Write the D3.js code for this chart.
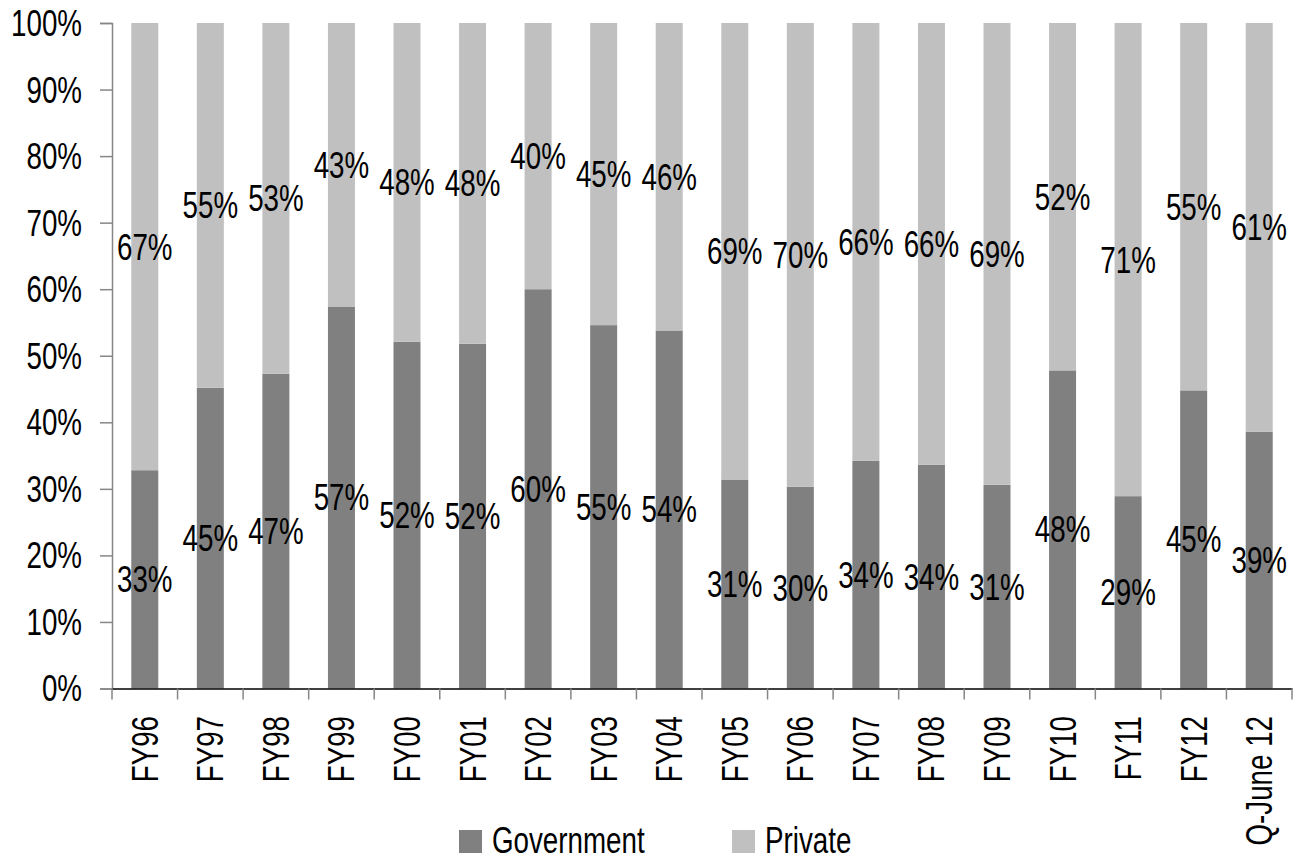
<!DOCTYPE html>
<html><head><meta charset="utf-8">
<script src="https://cdn.jsdelivr.net/npm/d3@7"></script>
<style>
html,body{margin:0;padding:0;background:#fff;}
svg text{font-family:"Liberation Sans",Arial,sans-serif;fill:#000;}
</style></head>
<body>
<svg id="c" width="1299" height="861"></svg>
<script>
const categories = ["FY96","FY97","FY98","FY99","FY00","FY01","FY02","FY03","FY04","FY05","FY06","FY07","FY08","FY09","FY10","FY11","FY12","Q-June 12"];
const government = [32.8,45.2,47.3,57.4,52.1,51.8,60.0,54.6,53.8,31.4,30.3,34.2,33.6,30.6,47.8,28.9,44.8,38.6];
const privateShare = [67.2,54.8,52.7,42.6,47.9,48.2,40.0,45.4,46.2,68.6,69.7,65.8,66.4,69.4,52.2,71.1,55.2,61.4];
const yTicks = [0,10,20,30,40,50,60,70,80,90,100];
const seriesNames = ["Government","Private"];
const colors = ["#808080","#c0c0c0"];

const svg = d3.select("#c");
const fs = 37, sx = 0.75;
const x = d3.scaleBand().domain(categories).range([112,1292]).paddingInner(0.588).paddingOuter(0.294);
const y = d3.scaleLinear().domain([0,100]).range([688.5,23]);

const rows = categories.map((c,i)=>({cat:c, gov:government[i], priv:privateShare[i]}));

function label(sel, px, py, anchor, rot){
  return sel.attr("transform",(d,i)=>`translate(${px(d,i)},${py(d,i)})${rot?" rotate(-90)":""} scale(${sx},1)`)
    .attr("text-anchor",anchor).attr("dy","0.35em").attr("font-size",fs);
}

// bars
const g = svg.append("g");
g.selectAll("rect.gov").data(rows).join("rect")
  .attr("x",d=>x(d.cat)).attr("width",x.bandwidth())
  .attr("y",d=>y(d.gov)).attr("height",d=>y(0)-y(d.gov)).attr("fill",colors[0]);
g.selectAll("rect.priv").data(rows).join("rect")
  .attr("x",d=>x(d.cat)).attr("width",x.bandwidth())
  .attr("y",d=>y(d.gov+d.priv)).attr("height",d=>y(d.gov)-y(d.gov+d.priv)).attr("fill",colors[1]);

// y axis
const ya = svg.append("g").attr("transform","translate(112,0)")
  .call(d3.axisLeft(y).tickValues(yTicks).tickFormat("").tickSize(12));
ya.select(".domain").attr("stroke","#868686").attr("stroke-width",1.5);
ya.selectAll(".tick line").attr("stroke","#868686").attr("stroke-width",1.5);
label(svg.append("g").selectAll("text").data(yTicks).join("text").text(d=>d+"%"),
  ()=>82, d=>y(d), "end", false);

// x axis
const xa = svg.append("g").attr("transform","translate(0,688.5)")
  .call(d3.axisBottom(x).tickSize(0).tickFormat(""));
xa.select(".domain").attr("stroke","#000").attr("stroke-width",1.5);
const bounds = d3.range(categories.length+1).map(i=>x.range()[0] + i*x.step());
xa.selectAll("line.b").data(bounds).join("line").attr("class","b")
  .attr("x1",d=>d).attr("x2",d=>d).attr("y1",0).attr("y2",11)
  .attr("stroke","#868686").attr("stroke-width",1.5);
label(svg.append("g").selectAll("text").data(categories).join("text").text(d=>d),
  d=>x(d)+x.bandwidth()/2, ()=>716, "end", true);

// data labels
const lab = svg.append("g");
label(lab.selectAll("text.gl").data(rows).join("text").attr("class","gl").text(d=>Math.round(d.gov)+"%"),
  d=>x(d.cat)+x.bandwidth()/2, d=>y(d.gov/2), "middle", false);
label(lab.selectAll("text.pl").data(rows).join("text").attr("class","pl").text(d=>Math.round(d.priv)+"%"),
  d=>x(d.cat)+x.bandwidth()/2, d=>y(d.gov+d.priv/2), "middle", false);

// legend
const legX = [459,732];
const leg = svg.append("g");
seriesNames.forEach((n,i)=>{
  leg.append("rect").attr("x",legX[i]).attr("y",830).attr("width",23).attr("height",23).attr("fill",colors[i]);
  leg.append("text").attr("transform",`translate(${legX[i]+33},853) scale(${sx},1)`).attr("font-size",fs).text(n);
});
</script>
</body></html>
